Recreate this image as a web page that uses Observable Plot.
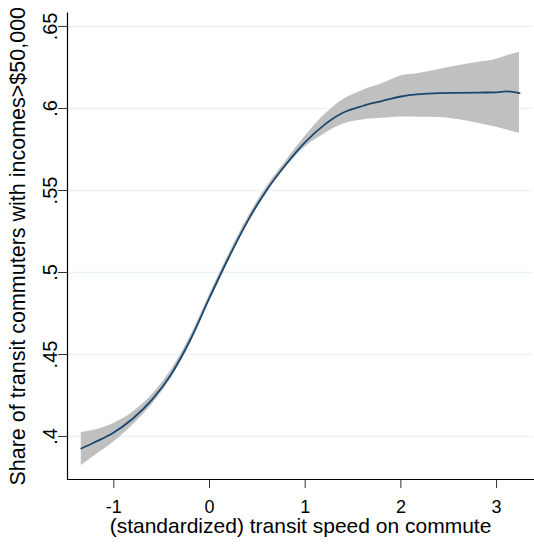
<!DOCTYPE html>
<html>
<head>
<meta charset="utf-8">
<script src="https://cdn.jsdelivr.net/npm/d3@7"></script>
<script src="https://cdn.jsdelivr.net/npm/@observablehq/plot@0.6"></script>
<style>
  html, body { margin: 0; padding: 0; background: #ffffff; }
  #chart svg { display: block; }
</style>
</head>
<body>
<div id="chart"></div>
<script>
// Transit speed (standardized) grid of the fitted curve
const speed = [-1.34, -1.2, -1.0, -0.8, -0.6, -0.4, -0.2, 0.0, 0.2, 0.4, 0.6, 0.8, 1.0, 1.2, 1.4, 1.6, 1.8, 2.0, 2.2, 2.4, 2.6, 2.8, 3.0, 3.1, 3.24];
// Fitted share of transit commuters with incomes > $50,000
const share = [0.3927, 0.3965, 0.4025, 0.4110, 0.4225, 0.4380, 0.4590, 0.4845, 0.5090, 0.5315, 0.5505, 0.5660, 0.5795, 0.5900, 0.5975, 0.6015, 0.6045, 0.6073, 0.6087, 0.6093, 0.6095, 0.6097, 0.6098, 0.6104, 0.6093];
// Confidence band
const lower = [0.3823, 0.3883, 0.3967, 0.4070, 0.4195, 0.4355, 0.4568, 0.4825, 0.5070, 0.5295, 0.5485, 0.5640, 0.5765, 0.5845, 0.5905, 0.5930, 0.5940, 0.5948, 0.5947, 0.5945, 0.5932, 0.5910, 0.5885, 0.5870, 0.5849];
const upper = [0.4024, 0.4040, 0.4080, 0.4150, 0.4255, 0.4405, 0.4612, 0.4865, 0.5110, 0.5335, 0.5525, 0.5680, 0.5830, 0.5960, 0.6055, 0.6110, 0.6150, 0.6198, 0.6215, 0.6238, 0.6260, 0.6280, 0.6300, 0.6320, 0.6343];

const xTicks = [-1, 0, 1, 2, 3];
const xTickLabels = ["-1", "0", "1", "2", "3"];
const yTicks = [0.4, 0.45, 0.5, 0.55, 0.6, 0.65];
const yTickLabels = [".4", ".45", ".5", ".55", ".6", ".65"];
const xTitle = "(standardized) transit speed on commute";
const yTitle = "Share of transit commuters with incomes>$50,000";

const data = speed.map((s, i) => ({s, fit: share[i], lo: lower[i], hi: upper[i]}));

const chart = Plot.plot({
  width: 534,
  height: 544,
  marginLeft: 67,
  marginRight: 1,
  marginTop: 12.5,
  marginBottom: 65,
  style: {fontFamily: "'Liberation Sans', Arial, sans-serif", background: "#ffffff", color: "#000000"},
  x: {domain: [-1.484, 3.386]},
  y: {domain: [0.3738, 0.6582]},
  marks: [
    Plot.gridY(yTicks, {stroke: "#eaf2f3", strokeOpacity: 1, strokeWidth: 1.3}),
    Plot.areaY(data, {x: "s", y1: "lo", y2: "hi", fill: "#c0c0c0", fillOpacity: 1, curve: "monotone-x"}),
    Plot.lineY(data, {x: "s", y: "fit", stroke: "#1a476f", strokeWidth: 1.8, curve: "monotone-x"}),
    Plot.axisX(xTicks, {tickSize: 9, tickPadding: 12, fontSize: 18, label: null, stroke: "#333333",
      tickFormat: (d) => xTickLabels[xTicks.indexOf(d)]}),
    Plot.axisY(yTicks, {tickSize: 9, tickPadding: 2, tickRotate: -90, fontSize: 20, label: null, stroke: "#333333",
      tickFormat: (d) => yTickLabels[yTicks.indexOf(d)]}),
    Plot.frame({anchor: "left", stroke: "#000000", strokeWidth: 1.2}),
    Plot.frame({anchor: "bottom", stroke: "#000000", strokeWidth: 1.2}),
    Plot.text([xTitle], {frameAnchor: "bottom", dy: 53, fontSize: 21, fill: "#000000"}),
    Plot.text([yTitle], {frameAnchor: "left", textAnchor: "middle", rotate: -90, dx: -49, fontSize: 21.5, fill: "#000000"})
  ]
});

document.getElementById("chart").appendChild(chart);
</script>
</body>
</html>
